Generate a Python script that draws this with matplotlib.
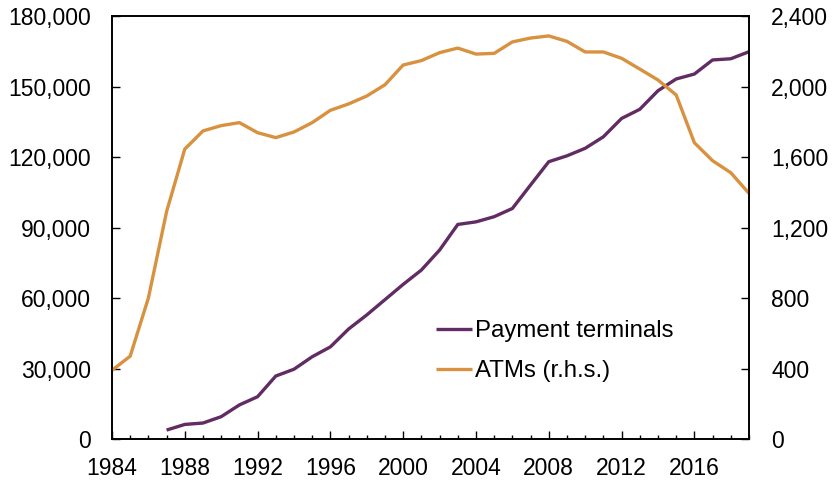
import matplotlib.pyplot as plt
from matplotlib.ticker import FuncFormatter, MultipleLocator

plt.rcParams['font.family'] = ['Liberation Sans', 'DejaVu Sans']

## Data
years_atm = list(range(1984, 2020))
atms = [390, 470, 800, 1290, 1645, 1748, 1778, 1795, 1738, 1710,
        1742, 1795, 1865, 1901, 1946, 2010, 2122, 2147, 2192, 2218,
        2184, 2188, 2253, 2275, 2287, 2256, 2196, 2196, 2160, 2099,
        2037, 1952, 1681, 1579, 1511, 1394]

years_pt = list(range(1987, 2020))
terminals = [3800, 6200, 6800, 9500, 14500, 18000, 26800, 29700, 35000, 39200,
             46800, 52800, 59300, 65800, 71900, 80400, 91300, 92400, 94600, 98100,
             108100, 118000, 120500, 123700, 128600, 136400, 140300, 148200, 153200,
             155300, 161300, 161800, 164800]

purple = "#612B63"
orange = "#D8913F"
fs = 16.5

fig = plt.figure(figsize=(8.32, 4.82), dpi=100)
ax = fig.add_axes([0.1346, 0.0892, 0.7656, 0.8776])
ax2 = ax.twinx()

l1, = ax.plot(years_pt, terminals, color=purple, lw=2.4, solid_capstyle="butt")
l2, = ax2.plot(years_atm, atms, color=orange, lw=2.4, solid_capstyle="butt")

ax.set_xlim(1984, 2019)
ax.set_ylim(0, 180000)
ax2.set_ylim(0, 2400)

ax.xaxis.set_major_locator(MultipleLocator(4))
ax.xaxis.set_minor_locator(MultipleLocator(1))
ax.yaxis.set_major_locator(MultipleLocator(30000))
ax2.yaxis.set_major_locator(MultipleLocator(400))

comma = FuncFormatter(lambda v, p: "{:,.0f}".format(v))
ax.yaxis.set_major_formatter(comma)
ax2.yaxis.set_major_formatter(comma)

ax.tick_params(axis="x", which="major", direction="in", length=6, width=1, pad=13, labelsize=fs)
ax.tick_params(axis="x", which="minor", direction="in", length=3, width=1)
ax.tick_params(axis="y", direction="in", length=6, width=1, pad=15, labelsize=fs)
ax2.tick_params(axis="y", direction="in", length=6, width=1, pad=16, labelsize=fs)

for a in (ax, ax2):
    for s in a.spines.values():
        s.set_linewidth(1.2)

ax2.legend([l1, l2], ["Payment terminals", "ATMs (r.h.s.)"],
           loc="lower left", bbox_to_anchor=(0.494, 0.111), frameon=False,
           fontsize=17.3, handlelength=1.5, handletextpad=0.1,
           labelspacing=0.75, borderaxespad=0)

fig.savefig("out.png", dpi=100)
